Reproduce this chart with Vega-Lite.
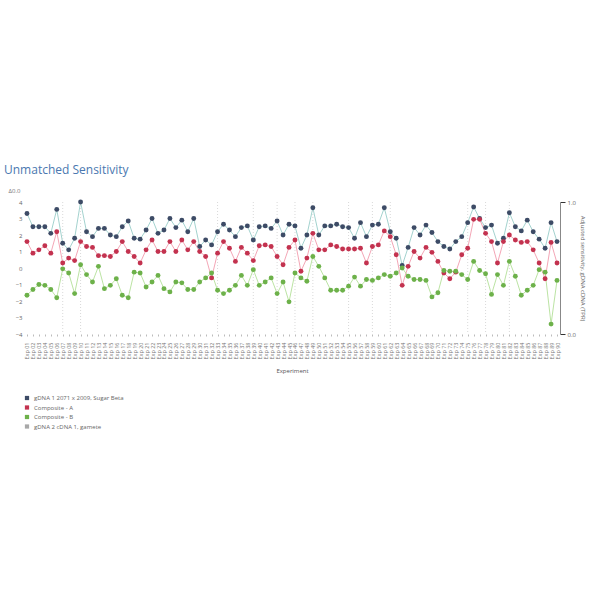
{
  "$schema": "https://vega.github.io/schema/vega-lite/v6.json",
  "autosize": {"type": "none"},
  "padding": {"left": 24, "top": 202, "right": 40, "bottom": 266},
  "width": 536,
  "height": 132,
  "background": "white",
  "config": {"font": "Open Sans", "view": {"stroke": null}},
  "title": {"text": "Unmatched Sensitivity", "anchor": "start", "frame": "group", "fontSize": 12, "fontWeight": "normal", "color": "#4a78b0", "dx": -20, "offset": 10},
  "datasets": {
    "main": [
      {"c":"Exp 01","A":3.3,"B":1.6,"C":-1.65},{"c":"Exp 02","A":2.5,"B":0.9,"C":-1.3},{"c":"Exp 03","A":2.5,"B":1.1,"C":-1.0},{"c":"Exp 04","A":2.5,"B":1.35,"C":-1.05},{"c":"Exp 05","A":2.1,"B":0.9,"C":-1.3},
      {"c":"Exp 06","A":3.55,"B":2.2,"C":-1.8},{"c":"Exp 07","A":1.5,"B":0.3,"C":-0.05},{"c":"Exp 08","A":1.1,"B":0.6,"C":-0.3},{"c":"Exp 09","A":1.8,"B":0.45,"C":-1.55},{"c":"Exp 10","A":4.0,"B":1.6,"C":0.2},
      {"c":"Exp 11","A":2.2,"B":1.3,"C":-0.4},{"c":"Exp 12","A":1.9,"B":1.25,"C":-0.85},{"c":"Exp 13","A":2.4,"B":0.75,"C":0.1},{"c":"Exp 14","A":2.4,"B":0.75,"C":-1.25},{"c":"Exp 15","A":2.0,"B":0.7,"C":-1.05},
      {"c":"Exp 16","A":1.9,"B":1.0,"C":-0.65},{"c":"Exp 17","A":2.5,"B":1.6,"C":-1.65},{"c":"Exp 18","A":2.85,"B":1.0,"C":-1.8},{"c":"Exp 19","A":1.8,"B":0.7,"C":-0.25},{"c":"Exp 20","A":1.75,"B":0.3,"C":-0.3},
      {"c":"Exp 21","A":2.3,"B":1.1,"C":-1.15},{"c":"Exp 22","A":3.0,"B":1.7,"C":-0.85},{"c":"Exp 23","A":2.1,"B":1.0,"C":-0.45},{"c":"Exp 24","A":2.3,"B":1.0,"C":-1.25},{"c":"Exp 25","A":3.0,"B":1.6,"C":-1.45},
      {"c":"Exp 26","A":2.45,"B":1.0,"C":-0.85},{"c":"Exp 27","A":2.9,"B":1.7,"C":-0.9},{"c":"Exp 28","A":2.2,"B":1.1,"C":-1.3},{"c":"Exp 29","A":3.0,"B":1.6,"C":-1.3},{"c":"Exp 30","A":1.3,"B":1.0,"C":-0.85},
      {"c":"Exp 31","A":1.7,"B":0.7,"C":-0.6},{"c":"Exp 32","A":1.4,"B":-0.6,"C":-0.3},{"c":"Exp 33","A":2.2,"B":0.9,"C":-1.35},{"c":"Exp 34","A":2.65,"B":1.6,"C":-1.55},{"c":"Exp 35","A":2.3,"B":1.2,"C":-1.35},
      {"c":"Exp 36","A":1.9,"B":0.4,"C":-1.05},{"c":"Exp 37","A":2.45,"B":1.25,"C":-0.45},{"c":"Exp 38","A":2.55,"B":0.9,"C":-1.05},{"c":"Exp 39","A":1.7,"B":0.45,"C":-0.1},{"c":"Exp 40","A":2.5,"B":1.35,"C":-1.05},
      {"c":"Exp 41","A":2.55,"B":1.4,"C":-0.85},{"c":"Exp 42","A":2.4,"B":1.3,"C":-0.6},{"c":"Exp 43","A":2.85,"B":0.7,"C":-1.55},{"c":"Exp 44","A":2.0,"B":0.2,"C":-0.85},{"c":"Exp 45","A":2.65,"B":1.25,"C":-2.05},
      {"c":"Exp 46","A":2.55,"B":1.7,"C":-0.3},{"c":"Exp 47","A":1.2,"B":-0.2,"C":-0.6},{"c":"Exp 48","A":2.0,"B":0.6,"C":-0.8},{"c":"Exp 49","A":3.65,"B":2.1,"C":0.7},{"c":"Exp 50","A":2.0,"B":1.1,"C":0.1},
      {"c":"Exp 51","A":2.55,"B":1.1,"C":-0.6},{"c":"Exp 52","A":2.55,"B":1.4,"C":-1.35},{"c":"Exp 53","A":2.65,"B":1.3,"C":-1.35},{"c":"Exp 54","A":2.5,"B":1.15,"C":-1.35},{"c":"Exp 55","A":2.45,"B":1.15,"C":-1.1},
      {"c":"Exp 56","A":1.8,"B":1.15,"C":-0.55},{"c":"Exp 57","A":2.75,"B":1.2,"C":-1.1},{"c":"Exp 58","A":1.9,"B":0.3,"C":-0.7},{"c":"Exp 59","A":2.6,"B":1.3,"C":-0.75},{"c":"Exp 60","A":2.65,"B":1.4,"C":-0.6},
      {"c":"Exp 61","A":3.65,"B":2.25,"C":-0.4},{"c":"Exp 62","A":2.2,"B":1.9,"C":-0.5},{"c":"Exp 63","A":1.8,"B":0.8,"C":-0.3},{"c":"Exp 64","A":0.15,"B":-1.05,"C":0.0},{"c":"Exp 65","A":1.25,"B":0.1,"C":-0.5},
      {"c":"Exp 66","A":2.45,"B":1.0,"C":-0.7},{"c":"Exp 67","A":2.0,"B":0.6,"C":-0.7},{"c":"Exp 68","A":2.6,"B":1.25,"C":-0.75},{"c":"Exp 69","A":2.15,"B":0.95,"C":-1.75},{"c":"Exp 70","A":1.6,"B":0.4,"C":-1.5},
      {"c":"Exp 71","A":1.3,"B":-0.3,"C":-0.15},{"c":"Exp 72","A":1.15,"B":-0.65,"C":-0.2},{"c":"Exp 73","A":1.6,"B":-0.25,"C":-0.2},{"c":"Exp 74","A":1.9,"B":0.8,"C":-0.4},{"c":"Exp 75","A":2.75,"B":1.2,"C":-0.7},
      {"c":"Exp 76","A":3.7,"B":2.95,"C":0.4},{"c":"Exp 77","A":3.0,"B":2.95,"C":-0.15},{"c":"Exp 78","A":2.45,"B":2.1,"C":-0.35},{"c":"Exp 79","A":2.6,"B":1.6,"C":-1.6},{"c":"Exp 80","A":1.5,"B":0.3,"C":-0.4},
      {"c":"Exp 81","A":1.8,"B":1.6,"C":-1.05},{"c":"Exp 82","A":3.35,"B":2.0,"C":0.4},{"c":"Exp 83","A":2.5,"B":1.7,"C":-0.5},{"c":"Exp 84","A":2.25,"B":1.55,"C":-1.65},{"c":"Exp 85","A":2.9,"B":1.6,"C":-1.35},
      {"c":"Exp 86","A":2.2,"B":1.1,"C":-1.05},{"c":"Exp 87","A":1.75,"B":0.3,"C":-0.1},{"c":"Exp 88","A":1.2,"B":-0.65,"C":-0.25},{"c":"Exp 89","A":2.75,"B":1.55,"C":-3.4},{"c":"Exp 90","A":1.6,"B":0.3,"C":-0.75}
    ],
    "vlines": [
      {"c":"Exp 07"},{"c":"Exp 10"},{"c":"Exp 33"},{"c":"Exp 39"},{"c":"Exp 43"},{"c":"Exp 46"},{"c":"Exp 49"},{"c":"Exp 55"},{"c":"Exp 59"},{"c":"Exp 62"},{"c":"Exp 75"},{"c":"Exp 78"},{"c":"Exp 82"}
    ],
    "right": [{"r": 0}, {"r": 1}]
  },
  "layer": [
    {
      "layer": [
        {
          "data": {"name": "main"},
          "transform": [{"fold": ["A", "B", "C"], "as": ["series", "value"]}],
          "mark": {"type": "line", "strokeWidth": 0.8},
          "encoding": {
            "x": {"field": "c", "type": "ordinal", "sort": "ascending", "scale": {"type": "point", "padding": 0.5},
              "axis": {"title": "Experiment", "titleFontSize": 6, "titleFontWeight": "normal", "titleColor": "#555", "labelAngle": -90, "labelFontSize": 5.5, "labelColor": "#777", "tickColor": "#bbb", "tickSize": 2, "domain": false, "labelPadding": 6, "titlePadding": 8}},
            "y": {"field": "value", "type": "quantitative", "scale": {"domain": [-4, 4], "nice": false, "zero": false},
              "axis": {"values": [-4, -3, -2, -1, 0, 1, 2, 3, 4], "tickCount": 9, "labelFontSize": 6, "labelColor": "#666", "domain": false, "ticks": false, "grid": false, "title": "Δ0.0", "titleAngle": 0, "titleAlign": "left", "titleBaseline": "middle", "titleX": -16, "titleY": -12, "titleFontSize": 6, "titleFontWeight": "normal", "titleColor": "#777"}},
            "color": {"field": "series", "type": "nominal", "scale": {"domain": ["A", "B", "C"], "range": ["#8cc7c2", "#f08fa3", "#a9dc8c"]}, "legend": null}
          }
        },
        {
          "data": {"name": "vlines"},
          "mark": {"type": "rule", "color": "#cfcfcf", "strokeDash": [1, 2], "strokeWidth": 0.8},
          "encoding": {
            "x": {"field": "c", "type": "ordinal", "sort": "ascending"}
          }
        },
        {
          "data": {"name": "main"},
          "transform": [{"fold": ["A", "B", "C"], "as": ["series", "value"]}],
          "mark": {"type": "point", "filled": true, "size": 24, "opacity": 1},
          "encoding": {
            "x": {"field": "c", "type": "ordinal", "sort": "ascending"},
            "y": {"field": "value", "type": "quantitative",
              "axis": {"values": [-4, -3, -2, -1, 0, 1, 2, 3, 4], "tickCount": 9, "labelFontSize": 6, "labelColor": "#666", "domain": false, "ticks": false, "grid": false, "title": "Δ0.0", "titleAngle": 0, "titleAlign": "left", "titleBaseline": "middle", "titleX": -16, "titleY": -12, "titleFontSize": 6, "titleFontWeight": "normal", "titleColor": "#777"}},
            "color": {"field": "series", "type": "nominal",
              "scale": {"domain": ["A", "B", "C", "Z"], "range": ["#3d4b66", "#c3324f", "#6db14a", "#a8a8a8"]},
              "legend": {"orient": "none", "legendX": 0, "legendY": 193, "title": null, "labelFontSize": 6, "labelColor": "#666", "symbolSize": 18, "symbolType": "square", "rowPadding": 3.5,
                "labelExpr": "datum.value == 'A' ? 'gDNA 1 2071 x 2009, Sugar Beta' : datum.value == 'B' ? 'Composite - A' : datum.value == 'C' ? 'Composite - B' : 'gDNA 2 cDNA 1, gamete'"}
            }
          }
        },
        {
          "mark": {"type": "rule", "color": "#f3a48a", "strokeWidth": 2, "opacity": 0.85},
          "encoding": {"y": {"datum": 0}}
        }
      ],
      "resolve": {"scale": {"color": "independent"}}
    },
    {
      "data": {"name": "right"},
      "mark": {"type": "point", "opacity": 0},
      "encoding": {
        "y": {"field": "r", "type": "quantitative", "scale": {"domain": [0, 1], "nice": false},
          "axis": {"orient": "right", "values": [0, 1], "format": ".1f", "labelFontSize": 6, "labelColor": "#666", "domainColor": "#888", "tickColor": "#333", "title": "Adjusted sensitivity, gDNA cDNA (TPR)", "titleFontSize": 6, "titleFontWeight": "normal", "titleColor": "#666", "titlePadding": 4}}
      }
    }
  ],
  "resolve": {"scale": {"y": "independent"}}
}
